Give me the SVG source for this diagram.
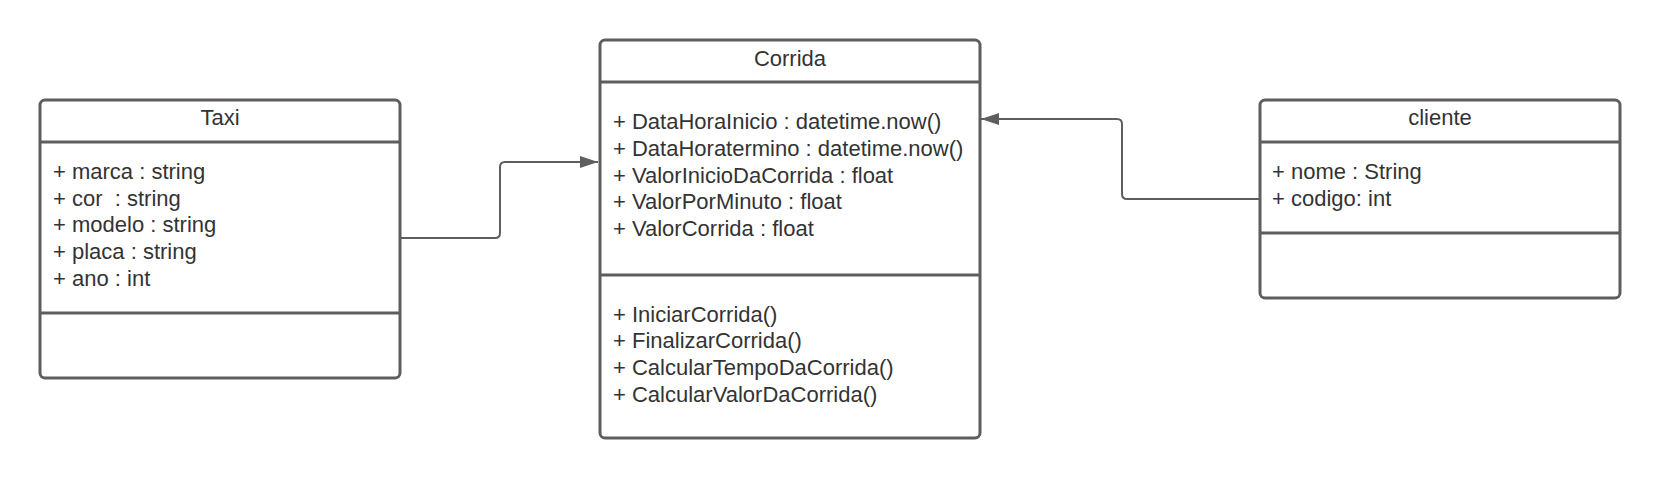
<svg xmlns="http://www.w3.org/2000/svg" width="1660" height="480" viewBox="0 0 1660 480">
<defs>
<style>
.box{fill:#ffffff;stroke:#5e5e5e;stroke-width:3}
.div{stroke:#5e5e5e;stroke-width:3;fill:none}
.t{font-family:"Liberation Sans",Arial,sans-serif;font-size:22px;fill:#333333}
.c{text-anchor:middle}
.conn{fill:none;stroke:#5e5e5e;stroke-width:2}
</style>
<marker id="arr" viewBox="0 0 18 12" refX="18" refY="6" markerWidth="18" markerHeight="12" markerUnits="userSpaceOnUse" orient="auto">
<path d="M0,0 L18,6 L0,12 Z" fill="#5e5e5e"/>
</marker>
</defs>
<rect width="1660" height="480" fill="#ffffff"/>
<g id="connectors">
<path class="conn" d="M400,238 H495 Q500,238 500,233 V167 Q500,162 505,162 H598" marker-end="url(#arr)"/>
<path class="conn" d="M1260,199 H1127 Q1122,199 1122,194 V124 Q1122,119 1117,119 H981" marker-end="url(#arr)"/>
</g>
<g id="taxi">
<rect class="box" x="40" y="100" width="360" height="278" rx="5"/>
<line class="div" x1="40" y1="142" x2="400" y2="142"/>
<line class="div" x1="40" y1="313" x2="400" y2="313"/>
<text class="t c" x="220" y="125">Taxi</text>
<text class="t" x="53" y="179">+ marca : string</text>
<text class="t" x="53" y="206" xml:space="preserve">+ cor  : string</text>
<text class="t" x="53" y="232">+ modelo : string</text>
<text class="t" x="53" y="259">+ placa : string</text>
<text class="t" x="53" y="286">+ ano : int</text>
</g>
<g id="corrida">
<rect class="box" x="600" y="40" width="380" height="398" rx="5"/>
<line class="div" x1="600" y1="82" x2="980" y2="82"/>
<line class="div" x1="600" y1="275" x2="980" y2="275"/>
<text class="t c" x="790" y="66">Corrida</text>
<text class="t" x="613" y="129">+ DataHoraInicio : datetime.now()</text>
<text class="t" x="613" y="156">+ DataHoratermino : datetime.now()</text>
<text class="t" x="613" y="183">+ ValorInicioDaCorrida : float</text>
<text class="t" x="613" y="209">+ ValorPorMinuto : float</text>
<text class="t" x="613" y="236">+ ValorCorrida : float</text>
<text class="t" x="613" y="322">+ IniciarCorrida()</text>
<text class="t" x="613" y="348">+ FinalizarCorrida()</text>
<text class="t" x="613" y="375">+ CalcularTempoDaCorrida()</text>
<text class="t" x="613" y="402">+ CalcularValorDaCorrida()</text>
</g>
<g id="cliente">
<rect class="box" x="1260" y="100" width="360" height="198" rx="5"/>
<line class="div" x1="1260" y1="142" x2="1620" y2="142"/>
<line class="div" x1="1260" y1="233" x2="1620" y2="233"/>
<text class="t c" x="1440" y="125">cliente</text>
<text class="t" x="1272" y="179">+ nome : String</text>
<text class="t" x="1272" y="206">+ codigo: int</text>
</g>
</svg>
